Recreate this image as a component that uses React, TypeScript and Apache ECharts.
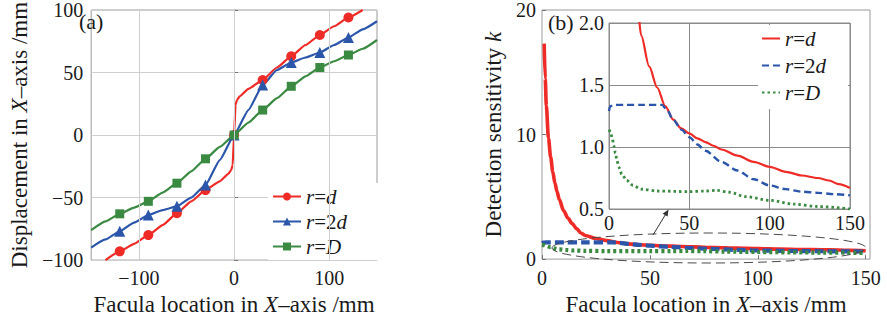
import React, { useEffect, useRef } from "react";
import * as echarts from "echarts";

// ---------- Panel (a): displacement vs facula location ----------
const aRedX = [-135, -120, -105, -90, -75, -60, -45, -30, -15, -6, -3, -1.5, 0, 1.5, 3, 6, 15, 30, 45, 60, 75, 90, 105, 120, 135];
const aRedY = [-100, -93, -87, -80, -72, -62.5, -53, -44, -37, -31, -28, -24, 0, 24, 28, 31, 37, 44, 54, 63, 72, 80, 87, 94, 100];
const aBlueX = [-150, -135, -120, -105, -90, -75, -60, -45, -30, -15, 0, 15, 30, 45, 60, 75, 90, 105, 120, 135, 150];
const aBlueY = [-90, -83.5, -77, -70, -64, -60, -57, -50, -40, -20, 0, 20, 40, 52, 58, 62, 66, 72, 78, 84.5, 91];
const aGreenX = [-150, -135, -120, -105, -90, -75, -60, -45, -30, -15, 0, 15, 30, 45, 60, 75, 90, 105, 120, 135, 150];
const aGreenY = [-76, -69, -63, -58, -53, -46, -38.5, -29, -19, -9.5, 0, 10, 20, 29.5, 39, 47, 54, 59, 64, 69, 76];
const aXTicks = [-100, 0, 100];

// ---------- Panel (b): detection sensitivity k ----------
const bRedX = [1, 1.5, 2, 3, 4, 5, 6, 7, 8, 10, 12, 14, 16, 18, 20, 25, 30, 35, 40, 45, 50, 55, 60, 65, 70, 80, 90, 100, 110, 120, 130, 137, 143, 150];
const bRedY = [17.3, 14.5, 12.3, 9.7, 8.2, 7.0, 6.1, 5.4, 4.8, 3.9, 3.3, 2.85, 2.45, 2.1, 1.9, 1.65, 1.48, 1.33, 1.22, 1.15, 1.11, 1.07, 1.04, 1.01, 0.98, 0.93, 0.88, 0.84, 0.8, 0.77, 0.75, 0.73, 0.7, 0.67];
const bBlueX = [0, 0.5, 1, 3, 10, 20, 33, 36, 40, 45, 50, 55, 60, 70, 80, 90, 100, 110, 120, 130, 140, 150];
const bBlueY = [1.29, 1.32, 1.33, 1.34, 1.34, 1.34, 1.34, 1.3, 1.22, 1.14, 1.08, 1.02, 0.97, 0.88, 0.81, 0.74, 0.69, 0.66, 0.64, 0.63, 0.62, 0.61];
const bGreenX = [0, 1, 2, 3, 4, 5, 6, 8, 11, 15, 20, 30, 50, 60, 67, 75, 85, 100, 115, 130, 150];
const bGreenY = [1.14, 1.12, 1.07, 1.01, 0.95, 0.89, 0.84, 0.78, 0.73, 0.69, 0.66, 0.645, 0.64, 0.645, 0.65, 0.635, 0.6, 0.57, 0.54, 0.52, 0.5];
const bXTicks = [0, 50, 100, 150];

const seriesNames = ["r=d", "r=2d", "r=D"];

const RED = "#ee2b26";
const BLUE = "#2b56aa";
const GREEN = "#3a8a42";
const TXT = "#1a1a1a";
const FONT = "'Liberation Serif', 'Times New Roman', 'DejaVu Serif', serif";

const zip = (xs: number[], ys: number[]) => xs.map((x, i) => [x, ys[i]]);
const minusFmt = (v: number) => String(v).replace("-", "\u2212");

const legendRich = {
  i: { fontFamily: FONT, fontStyle: "italic", fontSize: 21, color: TXT },
  n: { fontFamily: FONT, fontSize: 21, color: TXT },
};
const legendFmt = (name: string) =>
  name.replace(/^r=(2?)([dD])$/, (_m, two, d) => `{i|r}{n|=${two}}{i|${d}}`);

const nameRich = {
  n: { fontFamily: FONT, fontSize: 23, color: TXT },
  i: { fontFamily: FONT, fontSize: 23, color: TXT, fontStyle: "italic" },
};

function buildA(): any {
  const markerData = (xs: number[], ys: number[]) =>
    xs.map((x, i) => ({
      value: [x, ys[i]],
      symbol: Math.abs(x) <= 120 && x % 30 === 0 ? undefined : "none",
    }));
  const lineS = (name: string, xs: number[], ys: number[], color: string, symbol: string, size: number) => ({
    type: "line",
    name,
    data: markerData(xs, ys),
    symbol,
    symbolSize: size,
    showSymbol: true,
    smooth: 0.15,
    smoothMonotone: "x",
    z: 3,
    lineStyle: { color, width: 2.2 },
    itemStyle: { color },
  });
  return {
    animation: false,
    textStyle: { fontFamily: FONT },
    grid: { left: 77, top: 9, width: 300, height: 255, show: true, borderColor: "#9a9a9a", borderWidth: 1, backgroundColor: "transparent" },
    xAxis: {
      type: "value",
      min: -150,
      max: 150,
      interval: 50,
      axisLine: { show: false },
      splitLine: { show: false },
      axisTick: { show: true, inside: true, length: 4, customValues: aXTicks, lineStyle: { color: "#777" } },
      axisLabel: { customValues: aXTicks, formatter: minusFmt, fontFamily: FONT, fontSize: 20, color: TXT, margin: 8 },
      name: "{n|Facula location in }{i|X}{n|\u2013axis /mm}",
      nameLocation: "middle",
      nameGap: 25,
      nameTextStyle: { rich: nameRich },
    },
    yAxis: {
      type: "value",
      min: -100,
      max: 100,
      interval: 50,
      axisLine: { show: false },
      axisTick: { show: true, inside: true, length: 4, lineStyle: { color: "#777" } },
      splitLine: { show: true, lineStyle: { color: "#cfcfcf", width: 1 } },
      axisLabel: { formatter: minusFmt, fontFamily: FONT, fontSize: 20, color: TXT, margin: 8 },
      name: "{n|Displacement in }{i|X}{n|\u2013axis /mm}",
      nameLocation: "middle",
      nameGap: 48,
      nameTextStyle: { rich: nameRich },
    },
    legend: {
      orient: "vertical",
      left: 268,
      top: 183,
      itemWidth: 28,
      itemHeight: 10,
      itemGap: 4,
      padding: [3, 40, 3, 4],
      backgroundColor: "#fff",
      data: seriesNames,
      formatter: legendFmt,
      textStyle: { rich: legendRich, padding: [0, 0, 0, 0] },
    },
    graphic: [
      { type: "text", left: 79, top: 10, z: 20, style: { text: "(a)", fontFamily: FONT, fontSize: 22, fill: TXT } },
    ],
    series: [
      {
        type: "line",
        name: "grid",
        data: [],
        z: 1,
        silent: true,
        markLine: {
          silent: true,
          symbol: "none",
          label: { show: false },
          lineStyle: { color: "#cfcfcf", width: 1, type: "solid" },
          data: aXTicks.map((v) => ({ xAxis: v })),
        },
      },
      lineS(seriesNames[0], aRedX, aRedY, RED, "circle", 10),
      lineS(seriesNames[1], aBlueX, aBlueY, BLUE, "triangle", 11),
      lineS(seriesNames[2], aGreenX, aGreenY, GREEN, "rect", 9),
    ],
  };
}

function buildB(): any {
  const mk = (name: string, xs: number[], ys: number[], color: string, width: number, type: any, axis: number) => ({
    type: "line",
    name,
    data: zip(xs, ys),
    xAxisIndex: axis,
    yAxisIndex: axis,
    symbol: "none",
    smooth: 0.3,
    smoothMonotone: "x",
    clip: true,
    z: axis === 0 ? 3 : 6,
    lineStyle: { color, width, type, cap: "butt" },
    itemStyle: { color },
  });
  const tickLabel = { fontFamily: FONT, fontSize: 20, color: TXT };
  return {
    animation: false,
    textStyle: { fontFamily: FONT },
    grid: [
      { left: 99, top: 10, width: 328, height: 253, show: true, borderColor: "#9a9a9a", borderWidth: 1, backgroundColor: "transparent" },
      { left: 166, top: 23, width: 241, height: 186, show: true, borderColor: "#8a8a8a", borderWidth: 1, backgroundColor: "#fff", z: 4 },
    ],
    xAxis: [
      {
        type: "value",
        gridIndex: 0,
        min: 0,
        max: 152,
        interval: 50,
        axisLine: { show: false },
        splitLine: { show: false },
        axisTick: { show: true, inside: true, length: 4, customValues: bXTicks, lineStyle: { color: "#777" } },
        axisLabel: { ...tickLabel, customValues: bXTicks, margin: 9 },
        name: "{n|Facula location in }{i|X}{n|\u2013axis /mm}",
        nameLocation: "middle",
        nameGap: 33,
        nameTextStyle: { rich: nameRich },
      },
      {
        type: "value",
        gridIndex: 1,
        min: 0,
        max: 150,
        interval: 50,
        z: 5,
        axisLine: { show: false },
        axisTick: { show: false },
        splitLine: { show: true, lineStyle: { color: "#8a8a8a", width: 1 } },
        axisLabel: { ...tickLabel, margin: 4 },
      },
    ],
    yAxis: [
      {
        type: "value",
        gridIndex: 0,
        min: 0,
        max: 20,
        interval: 10,
        axisLine: { show: false },
        splitLine: { show: false },
        axisTick: { show: true, inside: true, length: 4, lineStyle: { color: "#777" } },
        axisLabel: { ...tickLabel, margin: 6 },
        name: "{n|Detection sensitivity }{i|k}",
        nameLocation: "middle",
        nameGap: 31,
        nameTextStyle: { rich: nameRich },
      },
      {
        type: "value",
        gridIndex: 1,
        min: 0.5,
        max: 2.0,
        interval: 0.5,
        z: 5,
        axisLine: { show: false },
        axisTick: { show: false },
        splitLine: { show: true, lineStyle: { color: "#8a8a8a", width: 1 } },
        axisLabel: { ...tickLabel, margin: 5, formatter: (v: number) => v.toFixed(1) },
      },
    ],
    legend: {
      orient: "vertical",
      left: 315,
      top: 25,
      z: 8,
      itemWidth: 18,
      itemHeight: 10,
      itemGap: 6,
      padding: [3, 22, 6, 3],
      backgroundColor: "#fff",
      data: seriesNames,
      formatter: legendFmt,
      itemStyle: { color: "rgba(0,0,0,0)", borderColor: "rgba(0,0,0,0)", borderWidth: 0, opacity: 0 },
      textStyle: { rich: legendRich },
    },
    graphic: [
      { type: "text", left: 105, top: 11, z: 20, style: { text: "(b)", fontFamily: FONT, fontSize: 22, fill: TXT } },
      {
        type: "ellipse",
        z: 10,
        silent: true,
        shape: { cx: 266, cy: 248, rx: 157, ry: 15 },
        style: { fill: "none", stroke: "#4a4a4a", lineWidth: 1, lineDash: [9, 5] },
      },
      {
        type: "line",
        z: 10,
        silent: true,
        shape: { x1: 210, y1: 235, x2: 224, y2: 212 },
        style: { stroke: "#333", lineWidth: 1 },
      },
      {
        type: "polygon",
        z: 10,
        silent: true,
        shape: { points: [[225.5, 209.5], [224.6, 216.4], [219.6, 213.7]] },
        style: { fill: "#333" },
      },
    ],
    series: [
      mk(seriesNames[0], bRedX, bRedY, RED, 2.2, "solid", 1),
      mk(seriesNames[1], bBlueX, bBlueY, BLUE, 2.4, [7, 4], 1),
      mk(seriesNames[2], bGreenX, bGreenY, GREEN, 2.8, [2.5, 3], 1),
      mk("main-d", bRedX, bRedY, RED, 3.6, "solid", 0),
      mk("main-2d", bBlueX, bBlueY, BLUE, 4.2, [9, 4], 0),
      mk("main-D", bGreenX, bGreenY, GREEN, 4.2, [3, 3], 0),
    ],
  };
}

function Chart({ build, style }: { build: () => any; style: React.CSSProperties }) {
  const ref = useRef<HTMLDivElement>(null);
  useEffect(() => {
    if (!ref.current) return;
    const chart = echarts.init(ref.current, undefined, { renderer: "svg" });
    chart.setOption(build());
    return () => chart.dispose();
  }, [build]);
  return <div ref={ref} style={style} />;
}

export default function App() {
  return (
    <div style={{ position: "absolute", left: 0, top: 0, width: 887, height: 321, background: "#fff" }}>
      <Chart build={buildA} style={{ position: "absolute", left: 0, top: 0, width: 443, height: 321 }} />
      <Chart build={buildB} style={{ position: "absolute", left: 443, top: 0, width: 444, height: 321 }} />
    </div>
  );
}
